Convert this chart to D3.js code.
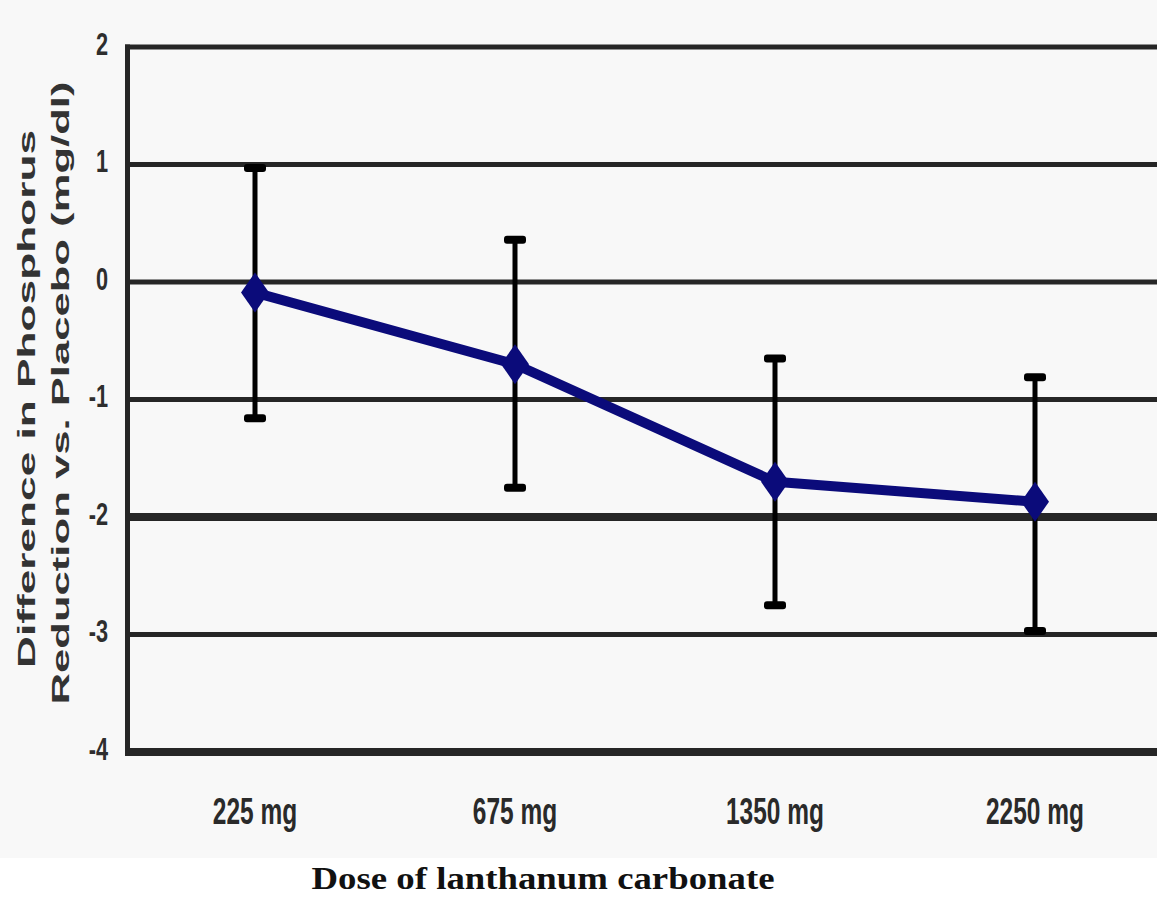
<!DOCTYPE html>
<html>
<head>
<meta charset="utf-8">
<script src="https://cdn.jsdelivr.net/npm/d3@7"></script>
<style>
  html, body { margin: 0; padding: 0; background: #ffffff; }
  svg { display: block; }
</style>
</head>
<body>
<svg id="chart" width="1157" height="898"></svg>
<script>
// ---- data ----
const categories = ["225 mg", "675 mg", "1350 mg", "2250 mg"];
const meanValues = [-0.09, -0.70, -1.70, -1.87];
const upperValues = [0.97, 0.36, -0.65, -0.81];
const lowerValues = [-1.16, -1.75, -2.75, -2.97];
const yTicks = [2, 1, 0, -1, -2, -3, -4];
const yTitleLines = ["Difference in Phosphorus", "Reduction vs. Placebo (mg/dl)"];
const xTitle = "Dose of lanthanum carbonate";

const W = 1157, H = 898;
const svg = d3.select("#chart");

// backgrounds
svg.append("rect").attr("x", 0).attr("y", 0).attr("width", W).attr("height", H).attr("fill", "#ffffff");
svg.append("rect").attr("x", 0).attr("y", 0).attr("width", W).attr("height", 858).attr("fill", "#f8f8f8");

// scales
const x = d3.scalePoint().domain(categories).range([125, 1165]).padding(0.5);
const y = d3.scaleLinear().domain([-4, 2]).range([752, 47]);

// gridlines
const thick = new Set([-2, -4]);
svg.append("g").selectAll("line").data(yTicks).join("line")
  .attr("x1", 125).attr("x2", W)
  .attr("y1", d => y(d)).attr("y2", d => y(d))
  .attr("stroke", "#262626")
  .attr("stroke-width", d => thick.has(d) ? 8 : 5);

// left axis line
svg.append("line")
  .attr("x1", 127.5).attr("x2", 127.5)
  .attr("y1", y(2) - 2.5).attr("y2", y(-4) + 4)
  .attr("stroke", "#262626").attr("stroke-width", 5);

// y tick labels
const yl = svg.append("g").selectAll("text").data(yTicks).join("text")
  .attr("x", 108).attr("y", d => y(d) - 3)
  .attr("text-anchor", "end").attr("dominant-baseline", "central")
  .attr("font-family", "Liberation Sans, Arial, sans-serif")
  .attr("font-weight", "bold").attr("font-size", 31)
  .attr("fill", "#2e2e2e")
  .text(d => d);
yl.each(function() {
  d3.select(this).attr("textLength", this.getComputedTextLength() * 0.7).attr("lengthAdjust", "spacingAndGlyphs");
});

// y title (rotated, two lines)
const yTitleX = [35, 69];
const yTitleLen = [538, 623];
const yTitleCY = [399, 393];
yTitleLines.forEach((s, i) => {
  svg.append("text")
    .attr("transform", `translate(${yTitleX[i]},${yTitleCY[i]}) rotate(-90)`)
    .attr("text-anchor", "middle")
    .attr("font-family", "Liberation Sans, Arial, sans-serif")
    .attr("font-weight", "bold").attr("font-size", 23)
    .attr("fill", "#333")
    .attr("textLength", yTitleLen[i]).attr("lengthAdjust", "spacingAndGlyphs")
    .text(s);
});

// x tick labels
const xl = svg.append("g").selectAll("text").data(categories).join("text")
  .attr("x", d => x(d)).attr("y", 824)
  .attr("text-anchor", "middle")
  .attr("font-family", "Liberation Sans, Arial, sans-serif")
  .attr("font-weight", "bold").attr("font-size", 36)
  .attr("fill", "#2a2a2a")
  .text(d => d);
xl.each(function() {
  d3.select(this).attr("textLength", this.getComputedTextLength() * 0.68).attr("lengthAdjust", "spacingAndGlyphs");
});

// x title
svg.append("text")
  .attr("x", 543).attr("y", 889)
  .attr("text-anchor", "middle")
  .attr("font-family", "Liberation Serif, 'Times New Roman', serif")
  .attr("font-weight", "bold").attr("font-size", 32)
  .attr("fill", "#111")
  .attr("textLength", 463).attr("lengthAdjust", "spacingAndGlyphs")
  .text(xTitle);

// data rows
const rows = categories.map((c, i) => ({ c, m: meanValues[i], hi: upperValues[i], lo: lowerValues[i] }));

// error bars
const eb = svg.append("g");
eb.selectAll("line").data(rows).join("line")
  .attr("x1", d => x(d.c)).attr("x2", d => x(d.c))
  .attr("y1", d => y(d.hi)).attr("y2", d => y(d.lo))
  .attr("stroke", "#000").attr("stroke-width", 5);
eb.selectAll("rect.hi").data(rows).join("rect").attr("class", "hi")
  .attr("x", d => x(d.c) - 11).attr("y", d => y(d.hi) - 4)
  .attr("width", 22).attr("height", 8).attr("rx", 3)
  .attr("fill", "#000");
eb.selectAll("rect.lo").data(rows).join("rect").attr("class", "lo")
  .attr("x", d => x(d.c) - 11).attr("y", d => y(d.lo) - 4)
  .attr("width", 22).attr("height", 8).attr("rx", 3)
  .attr("fill", "#000");

// mean line
const line = d3.line().x(d => x(d.c)).y(d => y(d.m));
svg.append("path").datum(rows)
  .attr("d", line)
  .attr("fill", "none").attr("stroke", "#0b0b7a").attr("stroke-width", 10)
  .attr("stroke-linejoin", "round");

// diamond markers
const dw = 14, dh = 20;
svg.append("g").selectAll("path").data(rows).join("path")
  .attr("d", d => {
    const cx = x(d.c), cy = y(d.m);
    return `M${cx},${cy - dh}L${cx + dw},${cy}L${cx},${cy + dh}L${cx - dw},${cy}Z`;
  })
  .attr("fill", "#0b0b7a");
</script>
</body>
</html>
